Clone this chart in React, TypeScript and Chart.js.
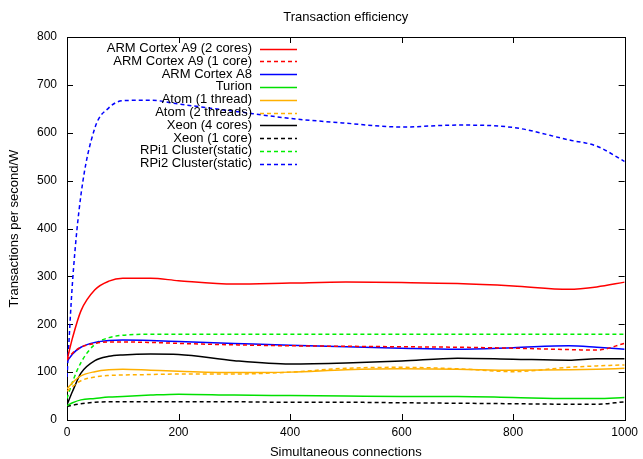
import React, { useEffect, useRef } from "react";
import { Chart, registerables } from "chart.js";

Chart.register(...registerables);

// Connection counts at which each series is sampled
const connections = [0, 10, 25, 50, 75, 100, 150, 200, 300, 400, 500, 600, 700, 800, 900, 950, 1000];

const a9TwoCores = [125, 172, 228, 272, 290, 296, 296, 291, 284, 286, 288, 287, 285, 280, 273, 278, 288];
const a9OneCore = [125, 140, 152, 160, 163, 163, 162, 160, 157, 155, 154, 153, 152, 150, 147, 146, 160];
const a8 = [122, 138, 152, 162, 166, 167, 166, 164, 160, 156, 153, 150, 148, 151, 155, 152, 148];
const turion = [30, 36, 42, 45, 48, 49, 52, 54, 52, 51, 50, 49, 49, 47, 45, 45, 47];
const atomOneThread = [65, 78, 92, 101, 105, 106, 104, 102, 99, 100, 105, 107, 106, 104, 105, 106, 108];
const atomTwoThreads = [60, 70, 82, 90, 93, 94, 95, 96, 96, 100, 108, 110, 107, 101, 110, 113, 115];
const xeonFourCores = [32, 60, 98, 124, 133, 136, 138, 137, 124, 117, 119, 123, 129, 127, 125, 128, 128];
const xeonOneCore = [28, 31, 34, 37, 38, 38, 38, 38, 38, 37, 37, 36, 35, 34, 33, 33, 38];
const rpi1Cluster = [45, 80, 120, 158, 172, 177, 179, 179, 179, 179, 179, 179, 179, 179, 179, 179, 179];
const rpi2Cluster = [90, 290, 470, 610, 652, 667, 668, 660, 645, 630, 620, 612, 616, 611, 585, 572, 540];

const xTickLabels = ["0", "200", "400", "600", "800", "1000"];

const seriesNames = [
  "ARM Cortex A9 (2 cores)",
  "ARM Cortex A9 (1 core)",
  "ARM Cortex A8",
  "Turion",
  "Atom (1 thread)",
  "Atom (2 threads)",
  "Xeon (4 cores)",
  "Xeon (1 core)",
  "RPi1 Cluster(static)",
  "RPi2 Cluster(static)",
];
const seriesValues = [
  a9TwoCores, a9OneCore, a8, turion, atomOneThread,
  atomTwoThreads, xeonFourCores, xeonOneCore, rpi1Cluster, rpi2Cluster,
];
const seriesColors = [
  "#ff0000", "#ff0000", "#0000ff", "#00e000", "#ffb000",
  "#ffb000", "#000000", "#000000", "#00ee00", "#0000ff",
];
const seriesDashed = [false, true, false, false, false, true, false, true, true, true];

const titleText = "Transaction efficiency";
const xTitle = "Simultaneous connections";
const yTitle = "Transactions per second/W";

const FONT = "'Liberation Sans', Arial, sans-serif";
const DASH = [4, 3];

// Frame, inward ticks on all four sides, titles and the key
const gnuplotLook = {
  id: "gnuplotLook",
  beforeDatasetsDraw(chart: any) {
    const { ctx, chartArea: a, scales } = chart;
    ctx.save();
    ctx.strokeStyle = "#000";
    ctx.lineWidth = 1;
    ctx.strokeRect(Math.round(a.left) + 0.5, Math.round(a.top) + 0.5,
      Math.round(a.right - a.left), Math.round(a.bottom - a.top));
    const t = 6;
    ctx.beginPath();
    for (const tk of scales.x.ticks) {
      const px = Math.round(scales.x.getPixelForValue(tk.value)) + 0.5;
      ctx.moveTo(px, a.bottom); ctx.lineTo(px, a.bottom - t);
      ctx.moveTo(px, a.top); ctx.lineTo(px, a.top + t);
    }
    for (const tk of scales.y.ticks) {
      const py = Math.round(scales.y.getPixelForValue(tk.value)) + 0.5;
      ctx.moveTo(a.left, py); ctx.lineTo(a.left + t, py);
      ctx.moveTo(a.right, py); ctx.lineTo(a.right - t, py);
    }
    ctx.stroke();
    ctx.restore();
  },
  afterDraw(chart: any) {
    const { ctx, chartArea: a } = chart;
    ctx.save();
    ctx.fillStyle = "#000";
    ctx.font = `13px ${FONT}`;
    ctx.textBaseline = "middle";
    ctx.textAlign = "center";
    ctx.fillText(titleText, (a.left + a.right) / 2, 17);
    ctx.fillText(xTitle, (a.left + a.right) / 2, 452);
    ctx.save();
    ctx.translate(14, (a.top + a.bottom) / 2);
    ctx.rotate(-Math.PI / 2);
    ctx.fillText(yTitle, 0, 0);
    ctx.restore();

    // key: right-aligned names with line samples to their right
    const textRight = 252;
    const x0 = 260;
    const x1 = 297;
    chart.data.datasets.forEach((ds: any, i: number) => {
      const y = 48.5 + i * 12.8;
      ctx.textAlign = "right";
      ctx.fillStyle = "#000";
      ctx.fillText(ds.label, textRight, y);
      ctx.beginPath();
      ctx.strokeStyle = ds.borderColor;
      ctx.lineWidth = ds.borderWidth;
      ctx.setLineDash(ds.borderDash || []);
      ctx.moveTo(x0, Math.round(y) + 0.5);
      ctx.lineTo(x1, Math.round(y) + 0.5);
      ctx.stroke();
      ctx.setLineDash([]);
    });
    ctx.restore();
  },
};

export default function App() {
  const canvasRef = useRef<HTMLCanvasElement | null>(null);

  useEffect(() => {
    if (!canvasRef.current) return;
    const datasets = seriesNames.map((name, i) => ({
      label: name,
      data: connections.map((c, j) => ({ x: c, y: seriesValues[i][j] })),
      borderColor: seriesColors[i],
      backgroundColor: seriesColors[i],
      borderWidth: 1.5,
      borderDash: seriesDashed[i] ? DASH : [],
      pointRadius: 0,
      cubicInterpolationMode: "monotone" as const,
      fill: false,
    }));

    const chart = new Chart(canvasRef.current, {
      type: "line",
      data: { datasets },
      options: {
        animation: false,
        responsive: false,
        maintainAspectRatio: false,
        layout: { padding: { top: 37, right: 15, left: 0, bottom: 0 } },
        plugins: {
          legend: { display: false },
          title: { display: false },
          tooltip: { enabled: false },
        },
        scales: {
          x: {
            type: "linear",
            min: 0,
            max: 1000,
            ticks: {
              stepSize: 200,
              color: "#000",
              font: { family: FONT, size: 12 },
              padding: 5,
              maxRotation: 0,
              callback: (_v: any, idx: number) => xTickLabels[idx],
            },
            grid: { display: false, drawTicks: false },
            border: { display: false },
            afterFit: (s: any) => { s.height = 39; },
          },
          y: {
            type: "linear",
            min: 0,
            max: 800,
            ticks: { stepSize: 100, color: "#000", font: { family: FONT, size: 12 }, padding: 10 },
            grid: { display: false, drawTicks: false },
            border: { display: false },
            afterFit: (s: any) => { s.width = 67; },
          },
        },
      },
      plugins: [gnuplotLook],
    });
    return () => chart.destroy();
  }, []);

  return (
    <div style={{ position: "fixed", left: 0, top: 0, width: 643, height: 459, background: "#fff" }}>
      <canvas ref={canvasRef} width={643} height={459} style={{ width: 643, height: 459 }} />
    </div>
  );
}
